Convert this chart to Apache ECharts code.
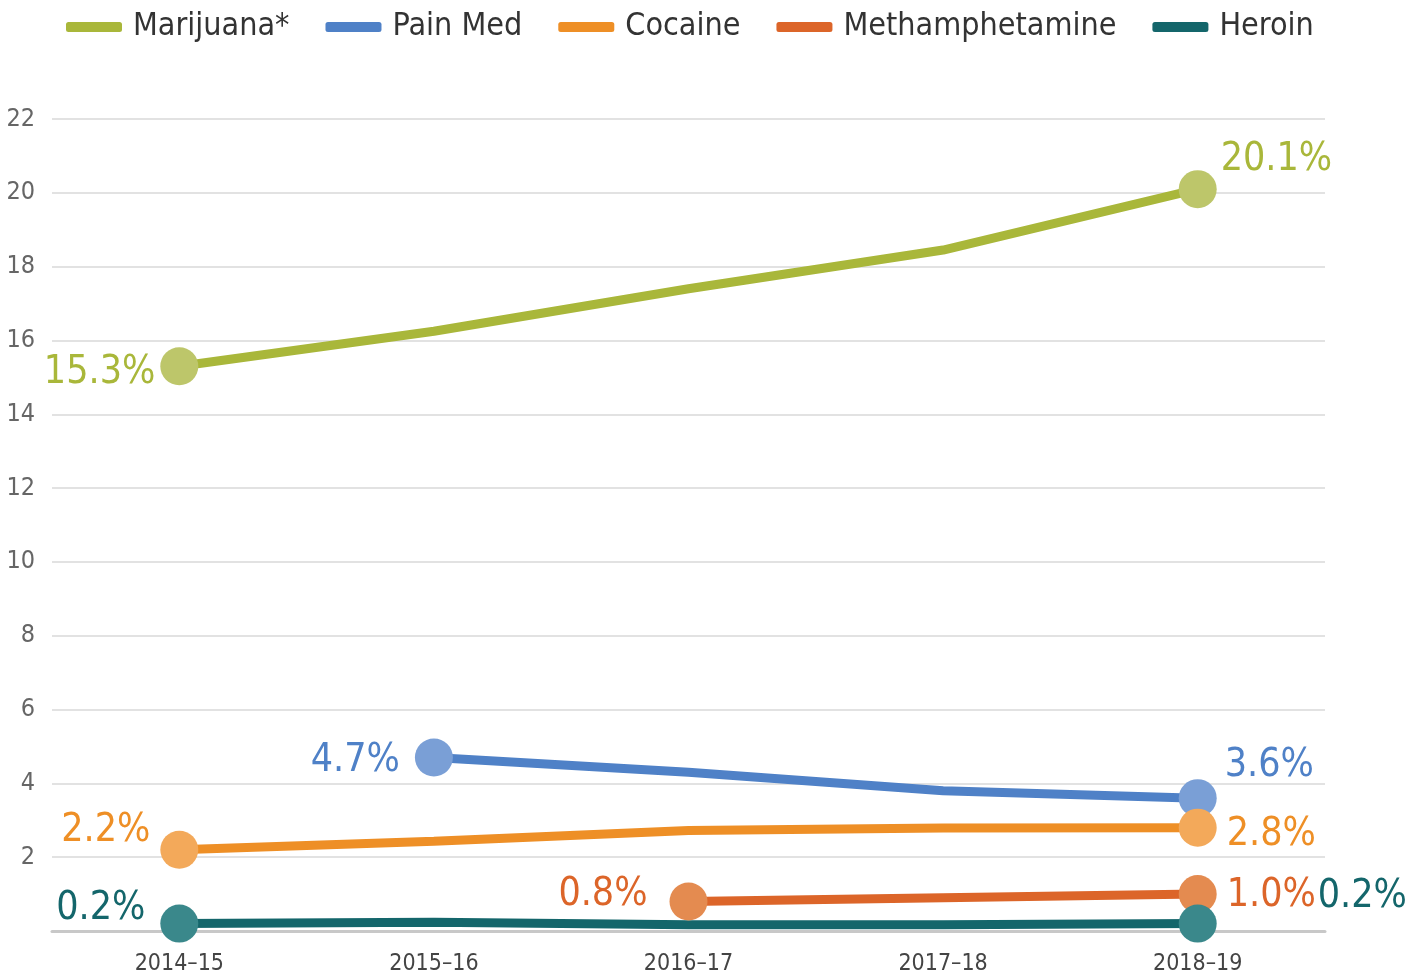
<!DOCTYPE html>
<html>
<head>
<meta charset="utf-8">
<script src="https://cdn.jsdelivr.net/npm/echarts@6/dist/echarts.min.js"></script>
<style>
  html, body { margin: 0; padding: 0; background: #fff; }
  #main { width: 1407px; height: 980px; }
</style>
</head>
<body>
<div id="main"></div>
<script>
// data
var years = ['2014–15', '2015–16', '2016–17', '2017–18', '2018–19'];
var marijuana = [15.3, 16.25, 17.4, 18.45, 20.1];
var painMed = [null, 4.7, 4.3, 3.8, 3.6];
var cocaine = [2.2, 2.43, 2.72, 2.79, 2.8];
var meth = [null, null, 0.8, 0.9, 1.0];
var heroin = [0.2, 0.24, 0.17, 0.17, 0.2];
var yTicks = [0, 22, 2];

var narrow = "'Liberation Sans Narrow', 'DejaVu Sans Condensed', sans-serif";

// label placement for first / last point of each line: [position, distance, offsetX, offsetY]
function makeData(values, dotColor, textColor, firstLab, lastLab) {
  var first = -1, last = -1;
  values.forEach(function (v, i) {
    if (v != null) { if (first < 0) first = i; last = i; }
  });
  return values.map(function (v, i) {
    if (v == null) return null;
    if (i !== first && i !== last) return { value: v, symbolSize: 0 };
    var lab = i === first ? firstLab : lastLab;
    return {
      value: v,
      symbolSize: 38,
      itemStyle: { color: dotColor },
      label: {
        show: true,
        position: lab[0],
        distance: lab[1],
        offset: [lab[2], lab[3]],
        color: textColor,
        fontFamily: narrow,
        fontSize: 39,
        formatter: function (p) { return p.value.toFixed(1) + '%'; }
      }
    };
  });
}

function line(name, values, lineColor, dotColor, firstLab, lastLab) {
  return {
    name: name,
    type: 'line',
    data: makeData(values, dotColor, lineColor, firstLab, lastLab),
    symbol: 'circle',
    showAllSymbol: true,
    connectNulls: false,
    lineStyle: { color: lineColor, width: 9 },
    itemStyle: { color: lineColor },
    emphasis: { disabled: true },
    z: 3
  };
}

var myChart = echarts.init(document.getElementById('main'));

option = {
  animation: false,
  color: ['#a9b73a', '#4f81c7', '#ee8f26', '#dc6529', '#14666b'],
  legend: {
    left: 61,
    top: 6,
    itemWidth: 56,
    itemHeight: 10,
    itemGap: 36,
    icon: 'roundRect',
    textStyle: { fontFamily: narrow, fontSize: 32, color: '#333', padding: [0, 0, 0, 6] },
    data: ['Marijuana*', 'Pain Med', 'Cocaine', 'Methamphetamine', 'Heroin']
  },
  grid: { left: 52, right: 82, top: 119, bottom: 49 },
  xAxis: {
    type: 'category',
    data: years,
    boundaryGap: true,
    axisLine: { lineStyle: { color: '#c8c8c8', width: 3 } },
    axisTick: { inside: true, alignWithLabel: true, length: 21, lineStyle: { color: '#b8b8b8', width: 1.5 } },
    axisLabel: { color: '#444', fontFamily: narrow, fontSize: 23, margin: 22 }
  },
  yAxis: {
    type: 'value',
    min: yTicks[0],
    max: yTicks[1],
    interval: yTicks[2],
    axisLine: { show: false },
    axisTick: { show: false },
    splitLine: { lineStyle: { color: '#d9d9d9', width: 1.5 } },
    axisLabel: {
      color: '#666',
      fontFamily: narrow,
      fontSize: 25,
      margin: 17,
      formatter: function (v) { return v === 0 ? '' : v; }
    }
  },
  series: [
    line('Marijuana*', marijuana, '#a9b73a', '#bdc66a', ['left', 5, 0, 7], ['right', 4, 0, -29]),
    line('Pain Med', painMed, '#4f81c7', '#7a9fd6', ['left', 15, 0, 3], ['right', 8, 0, -32]),
    line('Cocaine', cocaine, '#ee8f26', '#f3a95a', ['left', 10, 0, -19], ['right', 10, 0, 7]),
    line('Methamphetamine', meth, '#dc6529', '#e48b50', ['left', 22, 0, -7], ['right', 10, 0, 2]),
    line('Heroin', heroin, '#14666b', '#3a888b', ['left', 15, 0, -15], ['right', 10, 91, -27])
  ]
};

myChart.setOption(option);
</script>
</body>
</html>
